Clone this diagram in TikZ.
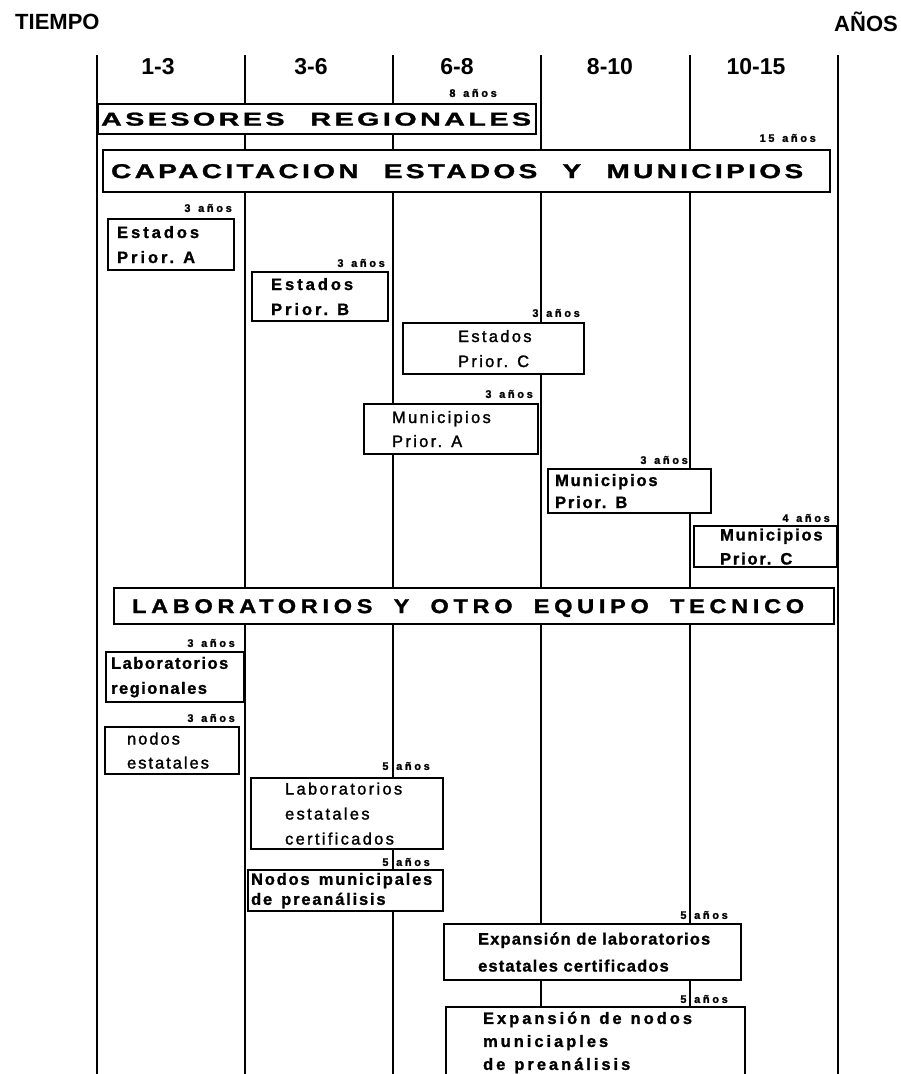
\documentclass[tikz,border=0pt]{standalone}
\usepackage{fontspec}
\setmainfont{Liberation Sans}
\newfontfamily\medf{Liberation Sans}[FakeBold=1.5]
\newfontfamily\heavyf{Liberation Sans Bold}[FakeBold=1.2]
\newcommand\ls[1]{\addfontfeature{LetterSpace=#1}}
\newcommand\hv[2]{\heavyf\fontsize{16.5}{#2}\selectfont\ls{#1}}
\newcommand\md[2]{\medf\fontsize{16.5}{#2}\selectfont\ls{#1}}
\newcommand\ttl[4]{\resizebox{#1}{#2}{\heavyf\ls{#3}#4}}
\newcommand\wsp{\hspace{0.55em}}
\newcommand\tsp{\hspace{0.9em}}
\newcommand\an[1]{#1\hspace{0.7em}años}
\tikzset{
  vline/.style={line width=1.8pt},
  box/.style={draw, line width=2.2pt, fill=white, inner sep=0pt, anchor=north west, align=left},
  bsize/.style 2 args={text width=#1, minimum height=#2},
  anos/.style={font=\heavyf\fontsize{11}{11}\selectfont\ls{24}, inner sep=0pt, anchor=east},
  hdr/.style={font=\fontsize{23}{23}\selectfont\bfseries, inner sep=0pt},
  corner/.style={font=\fontsize{22}{22}\selectfont\bfseries, inner sep=0pt},
}
\begin{document}
\begin{tikzpicture}[x=1pt,y=-1pt]
\useasboundingbox (0,0) rectangle (901,1074);
\clip (0,0) rectangle (901,1074);
\fill[white] (0,0) rectangle (901,1074);

% corner labels
\node[corner, anchor=west] (tiempo) at (15,22) {TIEMPO};
\node[corner, anchor=east] (anios) at (898,22) {AÑOS};

% vertical lines
\foreach \i/\x in {1/97,2/245,3/393,4/541,5/690,6/838}{
  \coordinate (t\i) at (\x,55);
  \coordinate (b\i) at (\x,1074);
  \draw[vline] (t\i) -- (b\i);
}

% column headers
\node[hdr] (h1) at (158,66.5) {1-3};
\node[hdr] (h2) at (311,66.5) {3-6};
\node[hdr] (h3) at (457,66.5) {6-8};
\node[hdr] (h4) at (610,66.5) {8-10};
\node[hdr] (h5) at (756,66.5) {10-15};

% title boxes
\node[box, bsize={438pt}{30pt}, text depth=0pt] (ases) at (97,103)
  {\hspace*{3pt}\ttl{430pt}{13pt}{12}{ASESORES\tsp REGIONALES}};
\node[box, bsize={727pt}{42pt}, text depth=0pt] (capa) at (102,149)
  {\hspace*{8pt}\ttl{692pt}{14pt}{12}{CAPACITACION\tsp ESTADOS\tsp Y\tsp MUNICIPIOS}};
\node[box, bsize={720pt}{36pt}, text depth=0pt] (lab) at (113,587)
  {\hspace*{18pt}\ttl{672pt}{14pt}{20}{LABORATORIOS\tsp Y\tsp OTRO\tsp EQUIPO\tsp TECNICO}};

% estados
\node[box, bsize={126pt}{51pt}, font={\hv{18}{25}}] (eA) at (107,218)
  {\hspace*{9pt}Estados\\\hspace*{9pt}Prior.\wsp A};
\node[box, bsize={136pt}{49pt}, font={\hv{18}{25}}] (eB) at (251,271)
  {\hspace*{19pt}Estados\\\hspace*{19pt}Prior.\wsp B};
\node[box, bsize={181pt}{51pt}, font={\md{14}{25}}] (eC) at (402,322)
  {\hspace*{55pt}Estados\\\hspace*{55pt}Prior.\wsp C};

% municipios
\node[box, bsize={174pt}{50pt}, font={\md{14}{24}}] (mA) at (363,403)
  {\hspace*{28pt}Municipios\\\hspace*{28pt}Prior.\wsp A};
\node[box, bsize={163pt}{44pt}, font={\hv{11}{22}}] (mB) at (547,468)
  {\hspace*{7pt}Municipios\\\hspace*{7pt}Prior.\wsp B};
\node[box, bsize={143pt}{41pt}, font={\hv{11}{24}}] (mC) at (693,525)
  {\hspace*{26pt}Municipios\\\hspace*{26pt}Prior.\wsp C};

% laboratorios
\node[box, bsize={138pt}{50pt}, font={\hv{9}{25}}] (lR) at (105,651)
  {\hspace*{5pt}Laboratorios\\\hspace*{5pt}regionales};
\node[box, bsize={134pt}{47pt}, font={\md{12}{24}}] (nE) at (104,726)
  {\hspace*{22pt}nodos\\\hspace*{22pt}estatales};
\node[box, bsize={192pt}{71pt}, font={\md{14}{25}}] (lE) at (250,777)
  {\hspace*{34pt}Laboratorios\\\hspace*{34pt}estatales\\\hspace*{34pt}certificados};
\node[box, bsize={195pt}{41pt}, font={\hv{11}{20}}] (nM) at (247,869)
  {\hspace*{3pt}Nodos\wsp municipales\\\hspace*{3pt}de\wsp preanálisis};
\node[box, bsize={297pt}{56pt}, font={\hv{7}{27}}] (xL) at (443,923)
  {\hspace*{34pt}Expansión de laboratorios\\\hspace*{34pt}estatales certificados};
\node[box, bsize={299pt}{71pt}, font={\hv{18}{23}}] (xN) at (445,1006)
  {\hspace*{37pt}Expansión\wsp de\wsp nodos\\\hspace*{37pt}municiaples\\\hspace*{37pt}de\wsp preanálisis};

% duration labels
\node[anos] (d1) at (497,93) {\an{8}};
\node[anos] (d2) at (816,138) {\an{15}};
\node[anos] (d3) at (232,208) {\an{3}};
\node[anos] (d4) at (385,263) {\an{3}};
\node[anos] (d5) at (580,313) {\an{3}};
\node[anos] (d6) at (533,394) {\an{3}};
\node[anos] (d7) at (688,460) {\an{3}};
\node[anos] (d8) at (830,518) {\an{4}};
\node[anos] (d9) at (235,643) {\an{3}};
\node[anos] (d10) at (235,718) {\an{3}};
\node[anos] (d11) at (430,766) {\an{5}};
\node[anos] (d12) at (430,862) {\an{5}};
\node[anos] (d13) at (728,915) {\an{5}};
\node[anos] (d14) at (728,999) {\an{5}};
\end{tikzpicture}
\end{document}
